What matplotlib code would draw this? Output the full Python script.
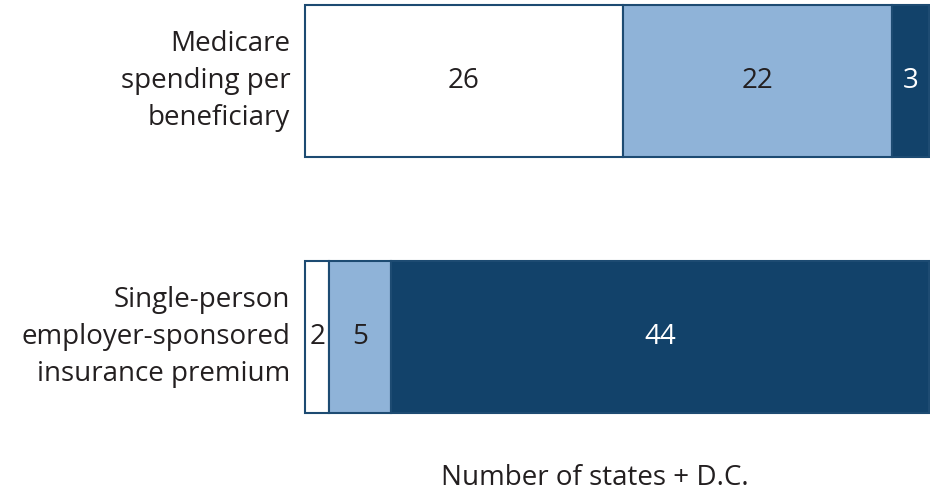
import matplotlib.pyplot as plt

# data
categories = ['Single-person\nemployer-sponsored\ninsurance premium',
              'Medicare\nspending per\nbeneficiary']
low = [2, 26]
mid = [5, 22]
high = [44, 3]

cor_borda = '#1d4b72'
cores = ['white', '#8fb3d8', '#12426a']
cor_txt = '#231f20'
cores_txt = [cor_txt, cor_txt, 'white']
fs = 20

plt.rcParams['font.family'] = ['Open Sans', 'DejaVu Sans']

fig = plt.figure(figsize=(9.3, 4.94), dpi=100)
ax = fig.add_axes([305 / 930., 1 - 413 / 494., 624 / 930., 408 / 494.])

ypos = [0, 1]
h = 0.594
left = [0, 0]
for serie, cor, ctxt in zip([low, mid, high], cores, cores_txt):
    ax.barh(ypos, serie, left=left, height=h, color=cor,
            edgecolor=cor_borda, linewidth=1.5, clip_on=False)
    for y, v, l in zip(ypos, serie, left):
        ax.text(l + v / 2., y, str(v), ha='center', va='center',
                fontsize=fs, color=ctxt)
    left = [a + b for a, b in zip(left, serie)]

ax.set_xlim(0, 51)
ax.set_ylim(-h / 2, 1 + h / 2)
ax.axis('off')

for y, cat in zip(ypos, categories):
    ax.text(-1.2, y, cat, ha='right', va='center',
            fontsize=fs, color=cor_txt, linespacing=1.43)

fig.text(595 / 930., 1 - 478 / 494., 'Number of states + D.C.', ha='center',
         va='center', fontsize=fs, color=cor_txt)

fig.savefig('out.png', dpi=100)
